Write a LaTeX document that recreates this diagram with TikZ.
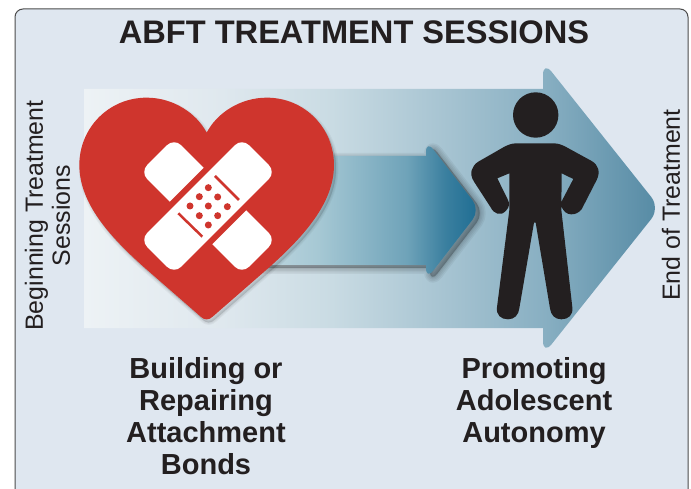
\documentclass[tikz,border=0pt]{standalone}
\usepackage{fontspec}
\setmainfont{Liberation Sans}
\definecolor{c0}{HTML}{EDF2F5}
\definecolor{c1}{HTML}{DFE8EE}
\definecolor{c2}{HTML}{C9DBE3}
\definecolor{c3}{HTML}{88AFC2}
\definecolor{c4}{HTML}{558AA4}
\definecolor{s0}{HTML}{C8DCE4}
\definecolor{s1}{HTML}{A6C8D4}
\definecolor{s2}{HTML}{6FA3B9}
\definecolor{s3}{HTML}{3A7F9F}
\definecolor{s4}{HTML}{1D6C92}
\definecolor{panelfill}{HTML}{DFE7F0}
\definecolor{heartred}{HTML}{CF352D}
\definecolor{ink}{HTML}{231F20}
\pgfdeclarehorizontalshading{bigshade}{100bp}{
 color(0bp)=(c0); color(25bp)=(c0); color(37bp)=(c1); color(46.5bp)=(c2); color(65bp)=(c3); color(75bp)=(c4); color(100bp)=(c4)}
\pgfdeclarehorizontalshading{smallshade}{100bp}{
 color(0bp)=(s0); color(25bp)=(s0); color(42bp)=(s1); color(60bp)=(s2); color(68bp)=(s3); color(75bp)=(s4); color(100bp)=(s4)}
\tikzset{
 panelbox/.style={draw=black!70,line width=1pt,fill=panelfill,rounded corners=8pt},
 titletext/.style={font=\bfseries\fontsize{32.6}{34}\selectfont,text=ink,inner sep=0pt},
 labeltext/.style={font=\bfseries\fontsize{29}{32}\selectfont,text=ink,align=center,inner sep=0pt},
 sidetext/.style={font=\fontsize{24.9}{27}\selectfont,text=ink,align=center,inner sep=0pt,rotate=90},
 softshadow/.style={draw=black,fill=black,opacity=0.05,line join=round},
 heartshadow/.style={draw=black,fill=black,opacity=0.04,line join=round},
}
\newcommand{\smallarrowpath}{(235,156) -- (426,156) [rounded corners=12pt] -- (426,140) -- (480,210) -- (426,280) [sharp corners] -- (426,265) -- (235,265) -- cycle}
\newcommand{\heartpath}{(410,218) .. controls (440,160) and (510,113) .. (590,113) .. controls (705,113) and (792,205) .. (792,315) .. controls (792,430) and (700,530) .. (600,620) -- (428,770) .. controls (417,781) and (403,781) .. (392,770) -- (220,620) .. controls (120,530) and (28,430) .. (28,315) .. controls (28,205) and (115,113) .. (230,113) .. controls (310,113) and (380,160) .. (410,218) -- cycle}
\begin{document}
\begin{tikzpicture}[x=1pt,y=-1pt]
\useasboundingbox (0,0) rectangle (691,489);
\fill[white] (0,0) rectangle (691,489);
\begin{scope}
\clip (0,0) rectangle (691,489);
\draw[panelbox] (15,9) rectangle (688,498);
\end{scope}
% big arrow
\shade[shading=bigshade] (84,89) -- (543,89) [rounded corners=14pt] -- (543,61) -- (660,208) -- (543,355) [sharp corners] -- (543,328) -- (84,328) -- cycle;
% small arrow shadow
\begin{scope}[shift={(4,3)}]
\foreach \w in {12,9,6,3,1}{\path[softshadow,line width=\w pt] \smallarrowpath;}
\end{scope}
\shade[shading=smallshade] \smallarrowpath;
% heart
\begin{scope}[shift={(70,60)},x=0.33333pt,y=-0.33333pt]
\begin{scope}[shift={(2pt,-3pt)}]
\foreach \w in {5,3,1}{\path[heartshadow,line width=\w pt] \heartpath;}
\end{scope}
\fill[heartred] \heartpath;
\end{scope}
% bandage
\begin{scope}[shift={(208,206)},rotate=-45]
\fill[white,rounded corners=10pt] (-72,-24) rectangle (72,24);
\end{scope}
\begin{scope}[shift={(208,206)},rotate=45]
\fill[heartred] (-66,-30) rectangle (66,30);
\fill[white,rounded corners=10pt] (-72,-24) rectangle (72,24);
\end{scope}
\begin{scope}[shift={(70,60)},x=0.33333pt,y=-0.33333pt]
\foreach \p/\q in {415/383,388/410,443/411,360/438,415/438,472/440,388/467,443/467,415/495}
  \fill[heartred] (\p,\q) circle[radius=3.5pt];
\draw[heartred,line width=2.5pt] (435,348) -- (507,420);
\draw[heartred,line width=2.5pt] (325,460) -- (397,530);
\end{scope}
% person
\fill[ink] (535.7,115) circle[radius=22.7pt];
\begin{scope}[shift={(420,60)},x=0.33333pt,y=-0.33333pt]
\fill[ink] (290,250) -- (400,250) .. controls (415,250) and (425,254) .. (440,262) -- (515,303) .. controls (535,315) and (542,335) .. (530,360) -- (490,438) .. controls (480,465) and (445,472) .. (430,450) .. controls (422,440) and (422,428) .. (428,418) -- (460,357) -- (425,340) -- (424,450) -- (457,742) .. controls (460,765) and (445,778) .. (424,778) .. controls (405,778) and (392,765) .. (390,745) -- (347,488) -- (342,488) -- (298,745) .. controls (296,765) and (283,778) .. (264,778) .. controls (243,778) and (228,765) .. (231,742) -- (268,450) -- (268,340) -- (232,355) -- (263,418) .. controls (270,430) and (268,442) .. (258,452) .. controls (242,470) and (222,462) .. (212,442) -- (162,365) .. controls (146,340) and (155,318) .. (175,305) -- (250,262) .. controls (265,254) and (275,250) .. (290,250) -- cycle;
\end{scope}
% texts
\node[titletext] (title) at (354,32) {ABFT TREATMENT SESSIONS};
\node[sidetext] (begin) at (47.5,215.5) {Beginning Treatment\\Sessions};
\node[sidetext] (endt) at (671,205) {End of Treatment};
\node[labeltext] (left) at (206,416) {Building or\\Repairing\\Attachment\\Bonds};
\node[labeltext] (right) at (534,403) {Promoting\\Adolescent\\Autonomy};
\end{tikzpicture}
\end{document}
